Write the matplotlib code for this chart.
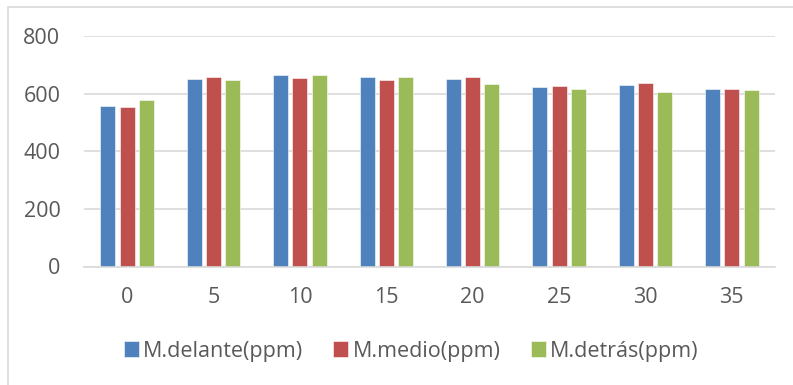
import matplotlib
matplotlib.use("Agg")
import matplotlib.pyplot as plt
from matplotlib.patches import Rectangle
import numpy as np

plt.rcParams['font.family'] = ['Open Sans', 'DejaVu Sans']

categories = ["0", "5", "10", "15", "20", "25", "30", "35"]
delante = [557, 651, 666, 658, 651, 622, 630, 617]
medio = [553, 658, 655, 646, 658, 627, 636, 617]
detras = [578, 649, 664, 658, 635, 615, 606, 613]
series_names = ["M.delante(ppm)", "M.medio(ppm)", "M.detrás(ppm)"]
colors = ["#4F81BD", "#C0504D", "#9BBB59"]
yticks = [0, 200, 400, 600, 800]

text_color = "#595959"
grid_color = "#D9D9D9"

fig = plt.figure(figsize=(7.93, 3.85), dpi=100)
fig.patch.set_facecolor("white")

# chart-area frame (only top and left edges fall inside the canvas)
fig.add_artist(Rectangle((7.5 / 793, -0.05), 1.2, (385 - 7.5) / 385 + 0.05,
                         transform=fig.transFigure, fill=False,
                         edgecolor=grid_color, linewidth=1.2))

ax = fig.add_axes([84 / 793, (385 - 266.5) / 385, 691 / 793, 230.5 / 385])

x = np.arange(len(categories))
width = 0.174
step = 0.223
for i, (vals, name, c) in enumerate(zip([delante, medio, detras], series_names, colors)):
    ax.bar(x + (i - 1) * step, vals, width, color=c, label=name,
           edgecolor="white", linewidth=0.4, zorder=3)

ax.set_xlim(-0.5, len(categories) - 0.5)
ax.set_ylim(0, 800)
ax.set_yticks(yticks)
ax.set_xticks(x)
ax.set_xticklabels(categories)
ax.yaxis.grid(True, color=grid_color, linewidth=1.2, zorder=0)
for side in ["top", "right", "left"]:
    ax.spines[side].set_visible(False)
ax.spines["bottom"].set_color(grid_color)
ax.spines["bottom"].set_linewidth(1.2)
ax.spines["bottom"].set_zorder(4)
ax.tick_params(axis="both", length=0, colors=text_color, labelsize=15.5)
ax.tick_params(axis="y", pad=17)
ax.tick_params(axis="x", pad=15)

leg = fig.legend(loc="center", bbox_to_anchor=(411 / 793, (385 - 351) / 385),
                 ncol=3, frameon=False, fontsize=15.5, handlelength=0.7,
                 handleheight=0.7, handletextpad=0.2, columnspacing=1.4)
for t in leg.get_texts():
    t.set_color(text_color)

fig.savefig("out.png", dpi=100, facecolor="white")
